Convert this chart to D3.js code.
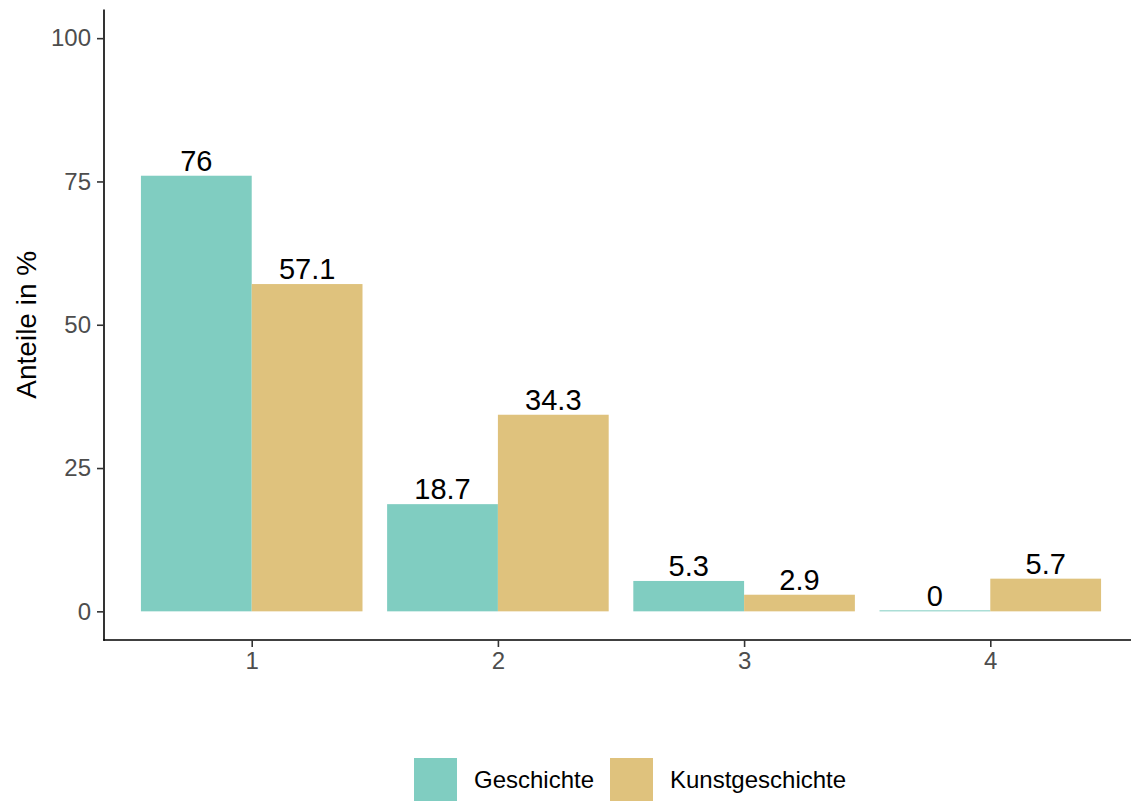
<!DOCTYPE html>
<html><head><meta charset="utf-8">
<script src="https://cdn.jsdelivr.net/npm/d3@7/dist/d3.min.js"></script>
<style>
html,body{margin:0;padding:0;background:#fff;}
text{font-family:"Liberation Sans",Arial,sans-serif;}
</style></head>
<body>
<svg id="chart" width="1131" height="802"></svg>
<script>
const categories = ["1", "2", "3", "4"];
const seriesNames = ["Geschichte", "Kunstgeschichte"];
const geschichte = [76, 18.7, 5.3, 0];
const kunstgeschichte = [57.1, 34.3, 2.9, 5.7];
const yTicks = [0, 25, 50, 75, 100];
const colors = ["#80CDC1", "#DFC27D"];

const svg = d3.select("#chart");
const panel = {left: 104, right: 1138, top: 9.5, bottom: 640};

const x = d3.scaleLinear().domain([0.4, categories.length + 0.6]).range([panel.left, panel.right]);
const y = d3.scaleLinear().domain([-5, 105]).range([panel.bottom, panel.top]);
const step = x(2) - x(1);
const groupW = step * 0.9;
const xs = d3.scaleBand().domain(seriesNames).range([-groupW / 2, groupW / 2]).padding(0);

const data = [];
categories.forEach((c, i) => {
  data.push({cat: i + 1, s: seriesNames[0], v: geschichte[i]});
  data.push({cat: i + 1, s: seriesNames[1], v: kunstgeschichte[i]});
});
const color = d3.scaleOrdinal().domain(seriesNames).range(colors);

// bars
svg.append("g").selectAll("rect").data(data).join("rect")
  .attr("x", d => x(d.cat) + xs(d.s))
  .attr("width", xs.bandwidth())
  .attr("y", d => Math.min(y(d.v), y(0) - 1))
  .attr("height", d => Math.max(y(0) - y(d.v), 1))
  .attr("fill", d => color(d.s));

// labels
svg.append("g").selectAll("text").data(data).join("text")
  .attr("x", d => x(d.cat) + xs(d.s) + xs.bandwidth() / 2)
  .attr("y", d => y(d.v) - 5)
  .attr("text-anchor", "middle")
  .attr("font-size", "29px")
  .attr("fill", "#000")
  .text(d => d3.format("")(d.v));

// y axis
const yAxis = svg.append("g").attr("transform", `translate(${panel.left},0)`)
  .call(d3.axisLeft(y).tickValues(yTicks).tickSize(7).tickPadding(6).tickFormat(d3.format("d")));
yAxis.select(".domain").attr("d", `M0,${panel.top}V${panel.bottom + 0.75}`).attr("stroke", "#000").attr("stroke-width", 1.6);
yAxis.selectAll(".tick line").attr("stroke", "#333").attr("stroke-width", 1.6);
yAxis.selectAll(".tick text").attr("font-size", "24px").attr("fill", "#4D4D4D").attr("font-family", "Liberation Sans, Arial, sans-serif");

// x axis
const xAxis = svg.append("g").attr("transform", `translate(0,${panel.bottom})`)
  .call(d3.axisBottom(x).tickValues(categories.map((c, i) => i + 1)).tickSize(7).tickPadding(5).tickFormat((d, i) => categories[i]));
xAxis.select(".domain").attr("d", `M${panel.left - 0.75},0H${panel.right}`).attr("stroke", "#000").attr("stroke-width", 1.6);
xAxis.selectAll(".tick line").attr("stroke", "#333").attr("stroke-width", 1.6);
xAxis.selectAll(".tick text").attr("font-size", "24px").attr("fill", "#4D4D4D").attr("font-family", "Liberation Sans, Arial, sans-serif");

// y title
svg.append("text")
  .attr("transform", `translate(36,${(panel.top + panel.bottom) / 2}) rotate(-90)`)
  .attr("text-anchor", "middle")
  .attr("font-size", "28px")
  .attr("fill", "#000")
  .text("Anteile in %");

// legend
const legendX = [414, 610];
const lg = svg.append("g");
seriesNames.forEach((s, i) => {
  lg.append("rect").attr("x", legendX[i]).attr("y", 758).attr("width", 43).attr("height", 43).attr("fill", color(s));
  lg.append("text").attr("x", legendX[i] + 60).attr("y", 779.5).attr("dy", "0.35em")
    .attr("font-size", "24px").attr("fill", "#000").text(s);
});
</script>
</body></html>
